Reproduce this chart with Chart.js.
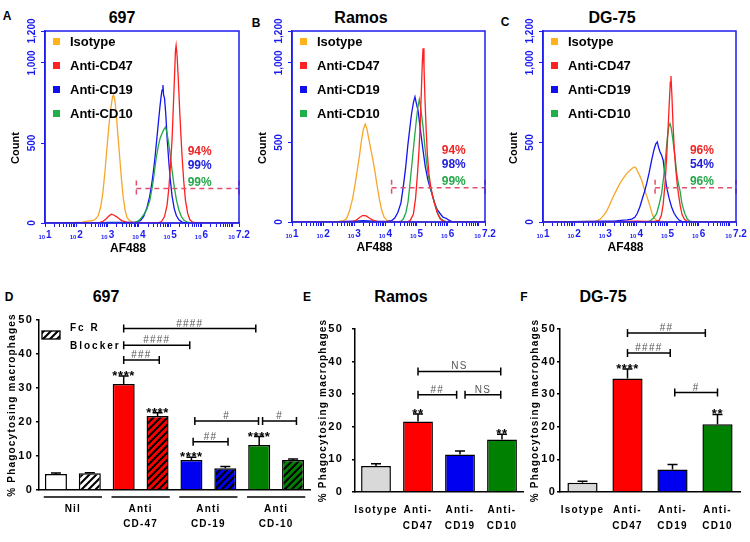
<!DOCTYPE html>
<html><head><meta charset="utf-8">
<script src="https://cdn.jsdelivr.net/npm/chart.js@4.4.1/dist/chart.umd.min.js"></script>
<style>
html,body{margin:0;padding:0;background:#fff;}
body{width:750px;height:542px;position:relative;overflow:hidden;font-family:Arial,"Liberation Sans",sans-serif;}
canvas{position:absolute;}
.t{position:absolute;font-weight:bold;color:#000;transform:translate(-50%,-50%);white-space:nowrap;line-height:1;}
</style></head><body>
<div class="t" style="left:7px;top:16px;font-size:12px">A</div>
<div class="t" style="left:122px;top:18px;font-size:16px">697</div>
<div class="t" style="left:256px;top:23px;font-size:12px">B</div>
<div class="t" style="left:361px;top:18px;font-size:16px">Ramos</div>
<div class="t" style="left:505px;top:22px;font-size:12px">C</div>
<div class="t" style="left:612px;top:18px;font-size:16px">DG-75</div>
<div class="t" style="left:9px;top:297px;font-size:12px">D</div>
<div class="t" style="left:106px;top:297px;font-size:16px">697</div>
<div class="t" style="left:307px;top:297px;font-size:12px">E</div>
<div class="t" style="left:401px;top:297px;font-size:16px">Ramos</div>
<div class="t" style="left:524px;top:297px;font-size:12px">F</div>
<div class="t" style="left:603px;top:297px;font-size:16px">DG-75</div>

<canvas id="cA" width="250" height="262" style="left:0;top:0;width:250px;height:262px"></canvas>
<canvas id="cB" width="250" height="262" style="left:250px;top:0;width:250px;height:262px"></canvas>
<canvas id="cC" width="250" height="262" style="left:500px;top:0;width:250px;height:262px"></canvas>
<canvas id="cD" width="312" height="272" style="left:0;top:270px;width:312px;height:272px"></canvas>
<canvas id="cE" width="215" height="272" style="left:312px;top:270px;width:215px;height:272px"></canvas>
<canvas id="cF" width="223" height="272" style="left:527px;top:270px;width:223px;height:272px"></canvas>

<script>
// ---------------- DATA ----------------
// Flow histograms: [log10(AF488), count]
const HIST_SERIES = ['Isotype', 'Anti-CD47', 'Anti-CD19', 'Anti-CD10'];
const X_DECADE_LABELS = [1, 2, 3, 4, 5, 6, 7.2];
const Y_COUNT_TICKS = [0, 500, 1000, 1200];
const Y_COUNT_LABELS = ['0', '500', '1,000', '1,200'];

const h697_iso = [[1,0],[1.8,0],[2.0,4],[2.2,6],[2.35,12],[2.5,14],[2.6,22],[2.7,45],[2.78,100],[2.85,190],[2.92,330],[2.98,470],[3.03,580],[3.08,680],[3.12,740],[3.16,790],[3.19,800],[3.23,770],[3.27,700],[3.31,600],[3.35,500],[3.4,380],[3.45,260],[3.5,160],[3.56,80],[3.62,35],[3.7,15],[3.8,6],[4.0,3],[4.5,2],[5,0],[7.2,0]];
const h697_cd47 = [[1,0],[2.7,0],[2.85,10],[2.95,25],[3.05,45],[3.12,55],[3.2,50],[3.28,40],[3.35,30],[3.45,15],[3.6,5],[3.8,0],[4.6,0],[4.72,8],[4.82,40],[4.9,110],[4.96,220],[5.01,360],[5.06,520],[5.1,720],[5.14,920],[5.17,1080],[5.19,1110],[5.22,1050],[5.26,900],[5.3,720],[5.34,560],[5.38,420],[5.43,270],[5.49,140],[5.56,60],[5.63,20],[5.72,5],[5.85,0],[7.2,0]];
const h697_cd19 = [[1,0],[2.8,0],[3.0,4],[3.5,4],[3.9,6],[4.05,15],[4.15,40],[4.25,90],[4.35,170],[4.43,270],[4.5,380],[4.56,500],[4.62,620],[4.67,720],[4.71,790],[4.74,830],[4.77,862],[4.79,800],[4.82,780],[4.86,680],[4.9,540],[4.95,400],[5.0,280],[5.06,170],[5.13,90],[5.2,45],[5.28,20],[5.38,6],[5.5,0],[7.2,0]];
const h697_cd10 = [[1,0],[3.8,0],[3.95,8],[4.05,25],[4.15,50],[4.25,85],[4.35,140],[4.45,250],[4.55,400],[4.62,480],[4.68,530],[4.74,560],[4.8,585],[4.85,600],[4.9,560],[4.95,500],[5.0,430],[5.06,330],[5.12,240],[5.2,145],[5.28,80],[5.36,40],[5.45,15],[5.55,5],[5.7,0],[7.2,0]];

const hRamos_iso = [[1,0],[2.3,0],[2.5,4],[2.65,8],[2.75,20],[2.85,70],[2.95,150],[3.03,240],[3.1,330],[3.17,420],[3.23,510],[3.29,580],[3.35,615],[3.4,590],[3.46,530],[3.53,460],[3.6,390],[3.67,310],[3.74,220],[3.81,140],[3.88,75],[3.96,30],[4.05,10],[4.2,3],[4.5,0],[7.2,0]];
const hRamos_cd47 = [[1,0],[2.9,0],[3.05,10],[3.18,30],[3.28,42],[3.38,38],[3.48,25],[3.6,12],[3.75,3],[3.9,0],[4.7,0],[4.8,10],[4.9,50],[4.97,150],[5.03,300],[5.08,450],[5.12,620],[5.16,850],[5.19,1020],[5.21,1091],[5.24,980],[5.27,780],[5.31,580],[5.35,420],[5.4,300],[5.46,220],[5.52,160],[5.6,100],[5.68,50],[5.76,20],[5.85,5],[6.0,0],[7.2,0]];
const hRamos_cd19 = [[1,0],[2.5,0],[2.7,4],[3.0,6],[3.3,8],[3.6,5],[4.0,3],[4.2,8],[4.3,25],[4.4,60],[4.5,120],[4.58,230],[4.65,340],[4.72,480],[4.78,580],[4.84,680],[4.9,750],[4.95,787],[5.0,740],[5.05,700],[5.1,620],[5.15,540],[5.21,450],[5.28,350],[5.36,270],[5.44,210],[5.5,175],[5.58,120],[5.66,80],[5.75,55],[5.85,30],[5.96,22],[6.05,10],[6.18,0],[7.2,0]];
const hRamos_cd10 = [[1,0],[4.4,0],[4.5,5],[4.58,20],[4.66,60],[4.73,130],[4.79,240],[4.85,360],[4.9,460],[4.95,556],[5.0,650],[5.05,730],[5.09,770],[5.13,720],[5.17,660],[5.21,598],[5.26,490],[5.32,380],[5.37,304],[5.44,220],[5.52,160],[5.59,115],[5.67,60],[5.76,25],[5.86,8],[6.0,0],[7.2,0]];

const hDG_iso = [[1,0],[2.2,2],[2.5,4],[2.7,6],[2.82,15],[2.92,35],[3.02,60],[3.1,90],[3.18,125],[3.27,165],[3.36,200],[3.47,241],[3.56,270],[3.65,295],[3.74,315],[3.82,330],[3.9,342],[3.95,346],[4.0,335],[4.06,310],[4.12,285],[4.17,262],[4.24,215],[4.31,175],[4.38,136],[4.45,90],[4.5,55],[4.56,28],[4.65,10],[4.8,3],[5.0,0],[7.2,0]];
const hDG_cd47 = [[1,0],[3.5,0],[3.7,4],[4.0,6],[4.3,4],[4.6,4],[4.73,10],[4.8,40],[4.86,110],[4.92,241],[4.97,400],[5.02,598],[5.06,760],[5.09,880],[5.11,917],[5.14,800],[5.18,598],[5.22,450],[5.27,320],[5.31,240],[5.35,178],[5.41,100],[5.47,45],[5.55,15],[5.65,3],[5.8,0],[7.2,0]];
const hDG_cd19 = [[1,0],[2.5,3],[3.0,5],[3.3,6],[3.5,10],[3.7,14],[3.85,18],[3.95,30],[4.03,55],[4.11,94],[4.18,140],[4.26,190],[4.33,241],[4.41,310],[4.49,388],[4.56,450],[4.62,490],[4.67,503],[4.71,470],[4.76,440],[4.81,420],[4.86,388],[4.91,310],[4.97,220],[5.05,150],[5.13,94],[5.21,55],[5.29,31],[5.37,12],[5.47,3],[5.6,0],[7.2,0]];
const hDG_cd10 = [[1,0],[4.3,0],[4.43,5],[4.55,25],[4.65,52],[4.73,110],[4.81,178],[4.88,290],[4.94,409],[4.99,520],[5.04,600],[5.08,619],[5.12,590],[5.17,520],[5.24,409],[5.3,300],[5.35,240],[5.4,199],[5.46,120],[5.52,75],[5.56,52],[5.63,20],[5.72,5],[5.85,0],[7.2,0]];

const pct697 = ['94%', '99%', '99%'];
const pctRamos = ['94%', '98%', '99%'];
const pctDG = ['96%', '54%', '96%'];
const PCT_COUNTS = [447, 358, 252];
const gateStart = { A: 3.92, B: 4.2, C: 4.6 };
const GATE_LEVEL = 215;

// Phagocytosis bars
const D_CATS = ['Nil', 'Nil + Fc R Blocker', 'Anti CD-47', 'Anti CD-47 + Fc R Blocker', 'Anti CD-19', 'Anti CD-19 + Fc R Blocker', 'Anti CD-10', 'Anti CD-10 + Fc R Blocker'];
const D_GROUPS = [['Nil'], ['Anti', 'CD-47'], ['Anti', 'CD-19'], ['Anti', 'CD-10']];
const D_VALUES = [4.7, 4.9, 31.2, 21.8, 8.8, 6.4, 13.2, 8.8];
const D_ERR = [0.3, 0.2, 2.3, 0.9, 0.8, 0.5, 2.5, 0.3];
const D_STARS = ['', '', '****', '****', '****', '', '****', ''];
const D_BRACKETS = [
  { from: 2, to: 5.9, y: 47.5, text: '####' },
  { from: 2, to: 3.95, y: 42.6, text: '####' },
  { from: 2, to: 3.05, y: 38.2, text: '###' },
  { from: 4.1, to: 5.98, y: 20.3, text: '#' },
  { from: 4.05, to: 5.08, y: 14.2, text: '##' },
  { from: 6.1, to: 7.1, y: 20.3, text: '#' }
];

const E_CATS = ['Isotype', ['Anti-', 'CD47'], ['Anti-', 'CD19'], ['Anti-', 'CD10']];
const E_VALUES = [8.0, 21.6, 11.5, 16.1];
const E_ERR = [0.7, 2.3, 1.1, 1.6];
const E_STARS = ['', '**', '', '**'];
const E_BRACKETS = [
  { from: 1, to: 2.97, y: 37.0, text: 'NS' },
  { from: 1, to: 1.92, y: 29.8, text: '##' },
  { from: 2.12, to: 2.97, y: 29.8, text: 'NS' }
];

const F_CATS = ['Isotype', ['Anti-', 'CD47'], ['Anti-', 'CD19'], ['Anti-', 'CD10']];
const F_VALUES = [2.8, 34.8, 6.9, 20.8];
const F_ERR = [0.5, 2.9, 1.5, 3.0];
const F_STARS = ['', '****', '', '**'];
const F_BRACKETS = [
  { from: 1, to: 2.73, y: 48.8, text: '##' },
  { from: 1, to: 1.95, y: 42.6, text: '####' },
  { from: 2.05, to: 3.0, y: 30.5, text: '#' }
];

// ---------------- STYLE ----------------
const FONT = 'Arial, "Liberation Sans", sans-serif';
Chart.defaults.font.family = FONT;
const BLUE = '#1c1cf0';
const LINE_COLORS = ['#f7a62a', '#ff1f1f', '#1414ee', '#21a848'];
const LEGEND_COLORS = ['#ffb21a', '#ff2222', '#1010ee', '#1fb04a'];
const PCT_COLORS = ['#ee2626', '#2020dd', '#25a84a'];
const GATE_COLOR = '#e0506c';

// log tick positions for the AF488 axis
const X_TICK_POS = [];
for (let n = 1; n <= 6; n++) for (let m = 1; m <= 9; m++) X_TICK_POS.push(n + Math.log10(m));
X_TICK_POS.push(7, 7.2);

const histDeco = {
  id: 'histDeco',
  afterDraw(chart, args, o) {
    const { ctx, chartArea: a, scales: { x, y } } = chart;
    ctx.save();
    ctx.strokeStyle = BLUE; ctx.lineWidth = 1.5;
    ctx.strokeRect(a.left, a.top, a.right - a.left, a.bottom - a.top);
    // y tick labels (rotated)
    ctx.fillStyle = BLUE; ctx.font = 'bold 10px ' + FONT;
    ctx.textAlign = 'center'; ctx.textBaseline = 'middle';
    Y_COUNT_TICKS.forEach((v, i) => {
      ctx.save(); ctx.translate(a.left - 13, y.getPixelForValue(v)); ctx.rotate(-Math.PI / 2);
      ctx.fillText(Y_COUNT_LABELS[i], 0, 0); ctx.restore();
    });
    // x tick labels 10^n
    ctx.textBaseline = 'alphabetic'; ctx.textAlign = 'left';
    X_DECADE_LABELS.forEach(e => {
      const px = x.getPixelForValue(e);
      ctx.font = 'bold 6px ' + FONT; const w1 = ctx.measureText('10').width;
      ctx.font = 'bold 10px ' + FONT; const w2 = ctx.measureText(String(e)).width;
      const x0 = px - (w1 + w2 + 1) / 2;
      ctx.font = 'bold 6px ' + FONT; ctx.fillText('10', x0, a.bottom + 16);
      ctx.font = 'bold 10px ' + FONT; ctx.fillText(String(e), x0 + w1 + 1, a.bottom + 15);
    });
    // axis titles
    ctx.fillStyle = '#000'; ctx.font = 'bold 12px ' + FONT; ctx.textAlign = 'center'; ctx.textBaseline = 'middle';
    ctx.fillText('AF488', (a.left + a.right) / 2 - 14, a.bottom + 26);
    ctx.save(); ctx.translate(a.left - 29, 148); ctx.rotate(-Math.PI / 2);
    ctx.font = 'bold 11px ' + FONT; ctx.fillText('Count', 0, 0); ctx.restore();
    // legend
    HIST_SERIES.forEach((name, i) => {
      const yy = a.top + 11 + i * 24;
      ctx.fillStyle = LEGEND_COLORS[i]; ctx.fillRect(a.left + 8, yy - 4, 7, 7);
      ctx.fillStyle = '#000'; ctx.font = 'bold 13px ' + FONT; ctx.textAlign = 'left';
      ctx.fillText(name, a.left + 25, yy);
    });
    // percentages
    ctx.font = 'bold 12px ' + FONT; ctx.textAlign = 'left';
    o.pct.forEach((t, i) => {
      ctx.fillStyle = PCT_COLORS[i];
      ctx.fillText(t, x.getPixelForValue(o.pctX), y.getPixelForValue(PCT_COUNTS[i]));
    });
    ctx.restore();
  }
};

function makeHist(id, series, pct, gx, pctX, pad) {
  const datasets = series.map((d, i) => ({
    label: HIST_SERIES[i], data: d, borderColor: LINE_COLORS[i], borderWidth: 1.3,
    pointRadius: 0, tension: 0, fill: false, order: [4, 1, 3, 2][i]
  }));
  datasets.push({
    label: 'gate', data: [[gx, 265], [gx, 165], [gx, null], [gx, GATE_LEVEL], [7.2, GATE_LEVEL], [7.2, null], [7.2, 265], [7.2, 165]],
    borderColor: GATE_COLOR, borderWidth: 1.5, borderDash: [5, 4], pointRadius: 0, tension: 0, fill: false, clip: false, order: 0
  });
  const tickGrid = { display: true, drawOnChartArea: false, drawTicks: true, tickLength: 4, color: BLUE, lineWidth: 1 };
  return new Chart(document.getElementById(id), {
    type: 'line',
    data: { datasets },
    plugins: [histDeco],
    options: {
      responsive: false, animation: false, devicePixelRatio: 1, parsing: true,
      layout: { padding: pad },
      plugins: { legend: { display: false }, tooltip: { enabled: false }, histDeco: { pct, pctX } },
      scales: {
        x: { type: 'linear', min: 1, max: 7.2, afterBuildTicks: s => { s.ticks = X_TICK_POS.map(v => ({ value: v })); },
             afterFit: s => { s.height = 6; }, ticks: { display: false }, grid: tickGrid, border: { color: BLUE, width: 1.5 } },
        y: { type: 'linear', min: 0, max: 1200, afterBuildTicks: s => { s.ticks = Y_COUNT_TICKS.map(v => ({ value: v })); },
             afterFit: s => { s.width = 6; }, ticks: { display: false }, grid: tickGrid, border: { color: BLUE, width: 1.5 } }
      }
    }
  });
}

makeHist('cA', [h697_iso, h697_cd47, h697_cd19, h697_cd10], pct697, gateStart.A, 5.56, { left: 39, right: 11, top: 31, bottom: 33 });
makeHist('cB', [hRamos_iso, hRamos_cd47, hRamos_cd19, hRamos_cd10], pctRamos, gateStart.B, 5.81, { left: 36, right: 15, top: 31, bottom: 34 });
makeHist('cC', [hDG_iso, hDG_cd47, hDG_cd19, hDG_cd10], pctDG, gateStart.C, 5.72, { left: 37, right: 14, top: 31, bottom: 34 });

// ---------- bar charts ----------
function hatch(ctx, bg) {
  const c = document.createElement('canvas'); c.width = 7; c.height = 7;
  const g = c.getContext('2d');
  g.fillStyle = bg; g.fillRect(0, 0, 7, 7);
  g.strokeStyle = '#000'; g.lineWidth = 2.1; g.beginPath();
  g.moveTo(-1, 8); g.lineTo(8, -1); g.moveTo(-1, 1); g.lineTo(1, -1); g.moveTo(6, 8); g.lineTo(8, 6); g.stroke();
  return ctx.createPattern(c, 'repeat');
}

const barDeco = {
  id: 'barDeco',
  beforeDraw(chart) { chart.ctx.letterSpacing = '1.2px'; },
  afterDatasetsDraw(chart, args, o) {
    const { ctx, chartArea: a, scales: { x, y } } = chart;
    ctx.save();
    ctx.strokeStyle = '#000'; ctx.lineWidth = 1.5;
    o.values.forEach((v, i) => {
      const cx = x.getPixelForValue(i), y0 = y.getPixelForValue(v), y1 = y.getPixelForValue(v + o.errs[i]);
      ctx.beginPath(); ctx.moveTo(cx, y0); ctx.lineTo(cx, y1); ctx.moveTo(cx - 5, y1); ctx.lineTo(cx + 5, y1); ctx.stroke();
      if (o.stars[i]) {
        ctx.letterSpacing = '0.6px';
        ctx.fillStyle = '#000'; ctx.font = 'bold 13px ' + FONT; ctx.textAlign = 'center'; ctx.textBaseline = 'alphabetic';
        ctx.fillText(o.stars[i], cx, y1 + 4);
      }
    });
    ctx.letterSpacing = '1.2px';
    o.brackets.forEach(b => {
      const x1 = x.getPixelForValue(b.from), x2 = x.getPixelForValue(b.to), yy = y.getPixelForValue(b.y);
      ctx.strokeStyle = '#000'; ctx.lineWidth = 1.5; ctx.beginPath();
      ctx.moveTo(x1, yy - 4); ctx.lineTo(x1, yy + 4); ctx.moveTo(x1, yy); ctx.lineTo(x2, yy);
      ctx.moveTo(x2, yy - 4); ctx.lineTo(x2, yy + 4); ctx.stroke();
      ctx.fillStyle = '#555'; ctx.font = '10px ' + FONT; ctx.textAlign = 'center'; ctx.textBaseline = 'alphabetic';
      ctx.fillText(b.text, (x1 + x2) / 2, yy - 2);
    });
    if (o.groups) {
      const cw = x.getPixelForValue(1) - x.getPixelForValue(0);
      o.groups.forEach((lines, g) => {
        const c0 = x.getPixelForValue(2 * g), c1 = x.getPixelForValue(2 * g + 1);
        ctx.strokeStyle = '#000'; ctx.lineWidth = 1.5; ctx.beginPath();
        ctx.moveTo(c0 - 0.36 * cw, a.bottom + 7); ctx.lineTo(c1 + 0.36 * cw, a.bottom + 7); ctx.stroke();
        ctx.fillStyle = '#000'; ctx.font = 'bold 10px ' + FONT; ctx.textAlign = 'center'; ctx.textBaseline = 'middle';
        lines.forEach((t, k) => ctx.fillText(t, (c0 + c1) / 2, a.bottom + 19 + k * 15));
      });
    }
    if (o.fcLegend) {
      ctx.fillStyle = o.fcLegend; ctx.fillRect(a.left + 3, a.top + 11, 18, 8);
      ctx.strokeStyle = '#000'; ctx.lineWidth = 1.3; ctx.strokeRect(a.left + 3, a.top + 11, 18, 8);
      ctx.letterSpacing = '2px'; ctx.fillStyle = '#000'; ctx.font = 'bold 10px ' + FONT;
      ctx.textAlign = 'left'; ctx.textBaseline = 'middle';
      ctx.fillText('Fc R', a.left + 31, a.top + 8);
      ctx.fillText('Blocker', a.left + 31, a.top + 26);
    }
    ctx.restore();
  },
  afterDraw(chart) { chart.ctx.letterSpacing = '0px'; }
};

function makeBar(id, cfg) {
  const canvas = document.getElementById(id);
  const ctx = canvas.getContext('2d');
  const colors = cfg.colors.map(c => c.startsWith('hatch:') ? hatch(ctx, c.slice(6)) : c);
  return new Chart(canvas, {
    type: 'bar',
    data: { labels: cfg.labels, datasets: [{ data: cfg.values, backgroundColor: colors, borderColor: '#000', borderWidth: 1.5,
      barPercentage: cfg.barPct, categoryPercentage: 1 }] },
    plugins: [barDeco],
    options: {
      responsive: false, animation: false, devicePixelRatio: 1,
      layout: { padding: cfg.pad },
      plugins: { legend: { display: false }, tooltip: { enabled: false },
        barDeco: { values: cfg.values, errs: cfg.errs, stars: cfg.stars, brackets: cfg.brackets, groups: cfg.groups, fcLegend: cfg.fcLegend ? hatch(ctx, '#fff') : null } },
      scales: {
        x: { type: 'category', offset: true, afterFit: s => { s.height = 40; },
             ticks: { display: cfg.showX, autoSkip: false, maxRotation: 0, minRotation: 0, padding: 2, color: '#000',
                      font: { size: 10, weight: 'bold', lineHeight: 1.6 } },
             grid: { display: false }, border: { color: '#000', width: 1.5 } },
        y: { min: 0, max: 50, afterFit: s => { s.width = cfg.yW; },
             ticks: { stepSize: 10, padding: cfg.tickPad, color: '#000', font: { size: 11, weight: 'bold' } },
             grid: { display: true, drawOnChartArea: false, drawTicks: true, tickLength: 3, color: '#000', lineWidth: 1.5 },
             border: { color: '#000', width: 1.5 },
             title: { display: true, text: '% Phagocytosing macrophages', color: '#000', padding: 0, font: { size: 10, weight: 'bold' } } }
      }
    }
  });
}

makeBar('cD', {
  labels: D_CATS, values: D_VALUES, errs: D_ERR, stars: D_STARS, brackets: D_BRACKETS, groups: D_GROUPS, fcLegend: true,
  colors: ['#ffffff', 'hatch:#ffffff', '#ff0000', 'hatch:#ff0000', '#0000f0', 'hatch:#0000f0', '#008000', 'hatch:#008000'],
  barPct: 0.65, showX: false, yW: 33, tickPad: 3, pad: { left: 6, right: 2, top: 50, bottom: 12 }
});
makeBar('cE', {
  labels: E_CATS, values: E_VALUES, errs: E_ERR, stars: E_STARS, brackets: E_BRACKETS,
  colors: ['#d9d9d9', '#ff0000', '#0000f0', '#008000'],
  barPct: 0.71, showX: true, yW: 38, tickPad: 9, pad: { left: 5, right: 4, top: 59, bottom: 10 }
});
makeBar('cF', {
  labels: F_CATS, values: F_VALUES, errs: F_ERR, stars: F_STARS, brackets: F_BRACKETS,
  colors: ['#d9d9d9', '#ff0000', '#0000f0', '#008000'],
  barPct: 0.67, showX: true, yW: 31, tickPad: 1, pad: { left: 2, right: 10, top: 59, bottom: 10 }
});
</script>
</body></html>
